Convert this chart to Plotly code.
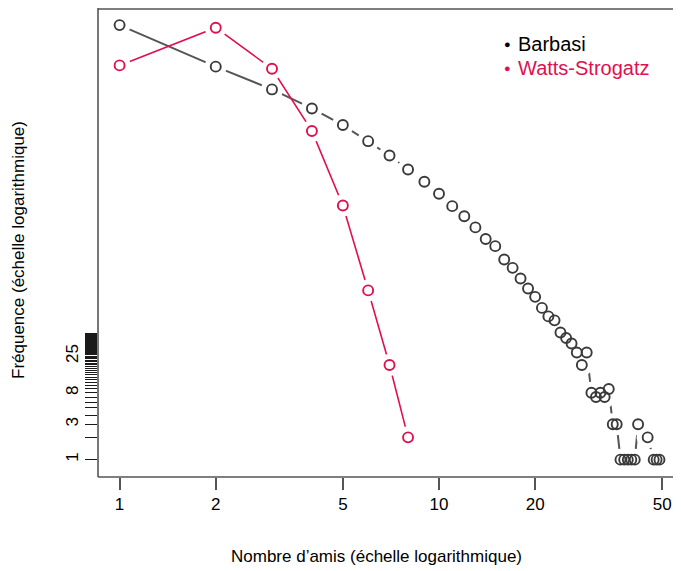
import plotly.graph_objects as go

# ---------------- data ----------------
barbasi_x = [1, 2, 3, 4, 5, 6, 7, 8, 9, 10, 11, 12, 13, 14, 15, 16, 17, 18, 19, 20,
             21, 22, 23, 24, 25, 26, 27, 28, 29, 30, 31, 32, 33, 34, 35, 36,
             37, 38, 39, 40, 41, 42, 45, 47, 48, 49]
barbasi_y = [739000, 203000, 100000, 55300, 33000, 20000, 12800, 8300, 5660, 3890,
             2650, 1940, 1370, 955, 764, 505, 389, 279, 205, 158,
             112, 86, 76, 52, 44, 37, 28, 19, 28, 8, 7, 8, 7, 9, 3, 3,
             1, 1, 1, 1, 1, 3, 2, 1, 1, 1]

ws_x = [1, 2, 3, 4, 5, 6, 7, 8]
ws_y = [211000, 682000, 190000, 27500, 2700, 193, 19, 2]

x_tick_vals = [1, 2, 5, 10, 20, 50]
y_tick_vals = list(range(1, 51))
y_tick_labelled = [1, 3, 8, 25]

series_names = ["Barbasi", "Watts-Strogatz"]
x_title = "Nombre d’amis (échelle logarithmique)"
y_title = "Fréquence (échelle logarithmique)"

# ---------------- style ----------------
OFF = 8                      # page body margin in the browser
W, H = 681 - OFF, 571 - OFF
ML, MT = 98 - OFF, 0
PLOT_RIGHT, PLOT_BOTTOM = 681 - OFF, 477 - OFF
MR, MB = W - PLOT_RIGHT, H - PLOT_BOTTOM
PW, PH = W - ML - MR, H - MT - MB
FONT = "Liberation Sans, Arial, Helvetica, sans-serif"
GREY_LINE = "#555555"
GREY_PT = "#3a3a3a"
RED = "#E0104E"


def px_x(p):
    return (p - OFF - ML) / PW


def px_y(p):
    return (H - MB - (p - OFF)) / PH


fig = go.Figure()


def add_series(xs, ys, line_col, pt_col, lw):
    fig.add_trace(go.Scatter(x=xs, y=ys, mode="lines",
                             line=dict(color=line_col, width=lw),
                             hoverinfo="skip", showlegend=False))
    fig.add_trace(go.Scatter(x=xs, y=ys, mode="markers",
                             marker=dict(symbol="circle", size=22, color="white",
                                         line=dict(width=0)),
                             hoverinfo="skip", showlegend=False))
    fig.add_trace(go.Scatter(x=xs, y=ys, mode="markers",
                             marker=dict(symbol="circle-open", size=10,
                                         color=pt_col, line=dict(width=1.9, color=pt_col)),
                             showlegend=False))


add_series(barbasi_x, barbasi_y, GREY_LINE, GREY_PT, 2)
add_series(ws_x, ws_y, RED, RED, 1.6)

y_tick_text = [str(v) if v in y_tick_labelled else "" for v in y_tick_vals]

fig.update_layout(
    width=W, height=H,
    margin=dict(l=ML, r=MR, t=MT, b=MB, pad=0),
    paper_bgcolor="white", plot_bgcolor="white",
    font=dict(family=FONT, size=17, color="black"),
    xaxis=dict(type="log", range=[-0.0676, 1.7576], tickmode="array",
               tickvals=x_tick_vals, ticktext=[str(v) for v in x_tick_vals],
               ticks="outside", ticklen=12, tickwidth=1.5, tickcolor="#555555",
               showgrid=False, zeroline=False, showline=False,
               tickfont=dict(size=17)),
    yaxis=dict(type="log", range=[-0.2346, 6.0996], tickmode="array",
               tickvals=y_tick_vals, ticktext=y_tick_text, tickangle=-90,
               ticks="outside", ticklen=12, tickwidth=1.2, tickcolor="#1a1a1a",
               showgrid=False, zeroline=False, showline=False,
               tickfont=dict(size=17)),
    shapes=[
        dict(type="line", xref="paper", yref="paper", x0=0, x1=0, y0=0, y1=1,
             line=dict(color="#555555", width=1.6)),
        dict(type="line", xref="paper", yref="paper", x0=0, x1=1, y0=0, y1=0,
             line=dict(color="#555555", width=1.6)),
        dict(type="line", xref="paper", yref="paper", x0=0, x1=1, y0=0.998, y1=0.998,
             line=dict(color="#555555", width=1.6)),
    ],
)

annotations = [
    dict(text=x_title, xref="paper", yref="paper", x=px_x(376), y=px_y(556),
         xanchor="center", yanchor="middle", showarrow=False,
         font=dict(size=17, color="black")),
    dict(text=y_title, xref="paper", yref="paper", x=px_x(18), y=px_y(250),
         xanchor="center", yanchor="middle", showarrow=False, textangle=-90,
         font=dict(size=17, color="black")),
]
legend_cols = ["black", RED]
legend_y = [44, 68]
for name, col, ly in zip(series_names, legend_cols, legend_y):
    annotations.append(dict(text="●", xref="paper", yref="paper", x=px_x(507), y=px_y(ly),
                            xanchor="center", yanchor="middle", showarrow=False,
                            font=dict(size=11, color=col)))
    annotations.append(dict(text=name, xref="paper", yref="paper", x=px_x(516), y=px_y(ly),
                            xanchor="left", yanchor="middle", showarrow=False,
                            font=dict(size=20, color=col)))
fig.update_layout(annotations=annotations)

fig.write_html("out.html")
